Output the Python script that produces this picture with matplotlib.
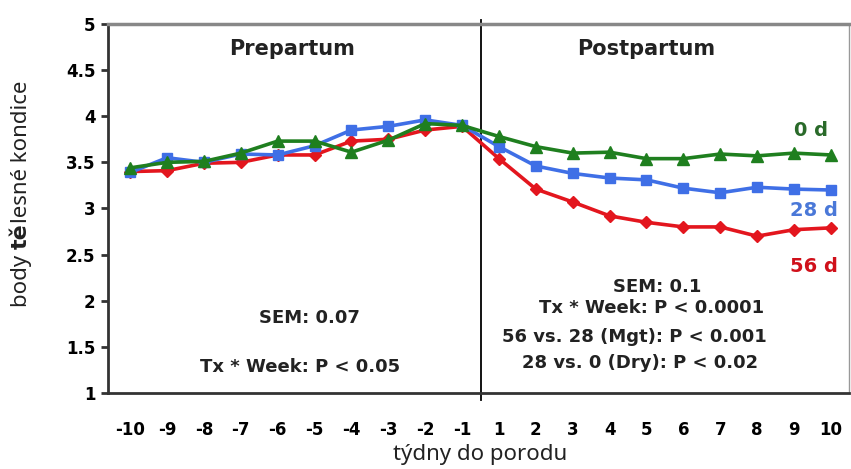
import matplotlib
matplotlib.use("Agg")
import matplotlib.pyplot as plt

# weeks relative to calving
weeks = ['-10', '-9', '-8', '-7', '-6', '-5', '-4', '-3', '-2', '-1',
         '1', '2', '3', '4', '5', '6', '7', '8', '9', '10']

# body condition score per group
bcs_0d = [3.44, 3.50, 3.51, 3.60, 3.73, 3.73, 3.61, 3.74, 3.92, 3.90,
          3.78, 3.67, 3.60, 3.61, 3.54, 3.54, 3.59, 3.57, 3.60, 3.58]
bcs_28d = [3.39, 3.55, 3.50, 3.59, 3.58, 3.68, 3.85, 3.89, 3.96, 3.90,
           3.67, 3.46, 3.38, 3.33, 3.31, 3.22, 3.17, 3.23, 3.21, 3.20]
bcs_56d = [3.40, 3.41, 3.49, 3.50, 3.58, 3.58, 3.73, 3.75, 3.85, 3.89,
           3.54, 3.21, 3.07, 2.92, 2.85, 2.80, 2.80, 2.70, 2.77, 2.79]

fig = plt.figure(figsize=(8.51, 4.69), dpi=100)
ax = fig.add_axes([0.127, 0.162, 0.871, 0.787])

x = list(range(len(weeks)))
ax.plot(x, bcs_56d, color='#e3161e', lw=2.6, marker='D', ms=6.5, zorder=3)
ax.plot(x, bcs_28d, color='#3f6fe6', lw=2.6, marker='s', ms=7.5, zorder=4)
ax.plot(x, bcs_0d, color='#1f7f1f', lw=2.6, marker='^', ms=8.5, zorder=5)

ax.set_xlim(-0.6, 19.5)
ax.set_ylim(1, 5)
ax.set_xticks(x)
ax.set_xticklabels(weeks)
ax.set_yticks([1, 1.5, 2, 2.5, 3, 3.5, 4, 4.5, 5])
ax.set_yticklabels(['1', '1.5', '2', '2.5', '3', '3.5', '4', '4.5', '5'])

bold = dict(family='DejaVu Sans', weight='bold')
for lab in ax.get_xticklabels() + ax.get_yticklabels():
    lab.set_fontfamily('DejaVu Sans')
    lab.set_fontweight('bold')
    lab.set_fontsize(12)
ax.tick_params(axis='x', length=0, pad=20)
ax.tick_params(axis='y', length=5, width=2, direction='out', pad=4, color='#333333')

for side in ['left', 'bottom']:
    ax.spines[side].set_linewidth(2)
    ax.spines[side].set_color('#333333')
ax.spines['top'].set_linewidth(2.5)
ax.spines['top'].set_color('#888888')
ax.spines['right'].set_linewidth(1)
ax.spines['right'].set_color('#999999')

# calving divider
ax.axvline(9.5, ymin=-0.02, ymax=1.01, color='black', lw=1.3, clip_on=False)

ax.text(4.4, 4.73, 'Prepartum', ha='center', va='center', fontsize=15, color='#222222', **bold)
ax.text(14.0, 4.73, 'Postpartum', ha='center', va='center', fontsize=15, color='#222222', **bold)

ax.text(18.45, 3.85, '0 d', ha='center', va='center', fontsize=14, color='#2a6a2a', **bold)
ax.text(18.55, 2.98, '28 d', ha='center', va='center', fontsize=14, color='#4a78d8', **bold)
ax.text(18.55, 2.37, '56 d', ha='center', va='center', fontsize=14, color='#d0101a', **bold)

ax.text(4.85, 1.81, 'SEM: 0.07', ha='center', va='center', fontsize=13, color='#222222', **bold)
ax.text(4.6, 1.28, 'Tx * Week: P < 0.05', ha='center', va='center', fontsize=13, color='#222222', **bold)

post = ['SEM: 0.1', 'Tx * Week: P < 0.0001', '56 vs. 28 (Mgt): P < 0.001', '28 vs. 0 (Dry): P < 0.02']
post_x = [14.28, 14.15, 13.66, 13.82]
post_y = [2.15, 1.92, 1.61, 1.33]
for i, line in enumerate(post):
    ax.text(post_x[i], post_y[i], line, ha='center', va='center', fontsize=13, color='#222222', **bold)

fig.text(0.564, 0.03, 'týdny do porodu', ha='center', va='center', fontsize=16,
         family='Noto Sans', color='#222222')

# y label with bold "tě", built from pieces
renderer = fig.canvas.get_renderer()
ypos = 1 - 307 / 469
pieces = [('body ', 'Noto Sans', 'normal'), ('tě', 'DejaVu Sans', 'bold'),
          ('lesné kondice', 'Noto Sans', 'normal')]
for piece, fam, wt in pieces:
    t = fig.text(0.032, ypos, piece, rotation=90, rotation_mode='anchor', ha='left',
                 va='baseline', fontsize=16, family=fam, weight=wt, color='#222222')
    bb = t.get_window_extent(renderer)
    ypos += bb.height / fig.bbox.height

fig.savefig('out.png', dpi=100)
